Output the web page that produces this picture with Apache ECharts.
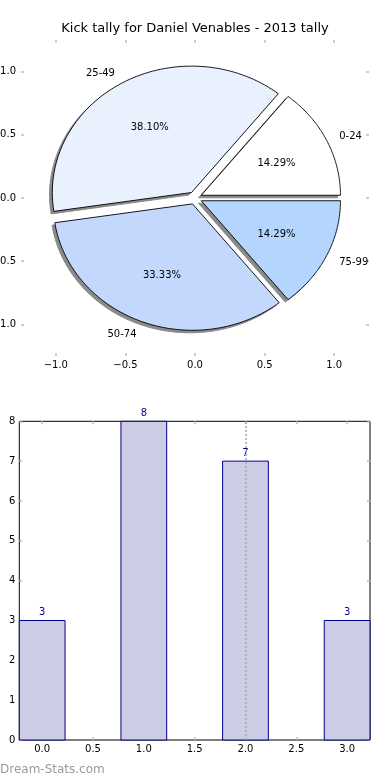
<!DOCTYPE html>
<html>
<head>
<meta charset="utf-8">
<script src="https://cdn.jsdelivr.net/npm/echarts@6/dist/echarts.min.js"></script>
<style>
html,body{margin:0;padding:0;background:#fff;}
#c{width:390px;height:780px;}
</style>
</head>
<body>
<div id="c"></div>
<script>
// ---- data ----
const titleText = 'Kick tally for Daniel Venables - 2013 tally';
const pieLabels = ['0-24', '25-49', '50-74', '75-99'];
const pieValues = [3, 8, 7, 3];
const pieTicks = [-1, -0.5, 0, 0.5, 1];
const barX = [0, 1, 2, 3];
const barValues = [3, 8, 7, 3];
const barXTicks = [0, 0.5, 1, 1.5, 2, 2.5, 3];
const barYTicks = [0, 1, 2, 3, 4, 5, 6, 7, 8];
const markX = 2;
const watermark = 'Dream-Stats.com';

// ---- style ----
const FONT = 'DejaVu Sans';
const pieColors = ['#ffffff', '#eaf1fe', '#c4d8fe', '#b3d5fe'];
const EXPLODE = 0.05;
const SHADOW_OFF = -0.02;
const BAR_W = 0.45;
const TICK_COLOR = '#bdbdbd';

const total = pieValues.reduce((a, b) => a + b, 0);
const starts = [];
let acc = 0;
pieValues.forEach(v => { starts.push(acc); acc += v; });

function fmt(v) {
  return (v < 0 ? '\u2212' : '') + Math.abs(v).toFixed(1);
}

function wedgeGeom(i, api, off) {
  const t1 = starts[i] / total * 2 * Math.PI;
  const t2 = (starts[i] + api.value(1)) / total * 2 * Math.PI;
  const tm = (t1 + t2) / 2;
  const cx = EXPLODE * Math.cos(tm) + off;
  const cy = EXPLODE * Math.sin(tm) + off;
  const pts = [api.coord([cx, cy])];
  const n = 80;
  for (let k = 0; k <= n; k++) {
    const t = t1 + (t2 - t1) * k / n;
    pts.push(api.coord([cx + Math.cos(t), cy + Math.sin(t)]));
  }
  return { pts, tm, cx, cy };
}

function renderShadow(params, api) {
  const g = wedgeGeom(params.dataIndex, api, SHADOW_OFF);
  return {
    type: 'polygon',
    shape: { points: g.pts },
    style: { fill: '#8a8a8a', stroke: '#8a8a8a', lineWidth: 1 }
  };
}

function renderWedge(params, api) {
  const i = params.dataIndex;
  const g = wedgeGeom(i, api, 0);
  const labelPos = api.coord([1.1 * Math.cos(g.tm) + g.cx, 1.1 * Math.sin(g.tm) + g.cy]);
  const pctPos = api.coord([0.6 * Math.cos(g.tm) + g.cx, 0.6 * Math.sin(g.tm) + g.cy]);
  const pct = (api.value(1) / total * 100).toFixed(2) + '%';
  return {
    type: 'group',
    children: [
      {
        type: 'polygon',
        shape: { points: g.pts },
        style: { fill: pieColors[i], stroke: '#000', lineWidth: 0.9 }
      },
      {
        type: 'text',
        x: labelPos[0], y: labelPos[1] + 1,
        style: {
          text: pieLabels[i],
          align: Math.cos(g.tm) > 0 ? 'left' : 'right',
          verticalAlign: 'middle',
          fontFamily: FONT, fontSize: 10, fill: '#000'
        }
      },
      {
        type: 'text',
        x: pctPos[0], y: pctPos[1] + 1,
        style: {
          text: pct,
          align: 'center',
          verticalAlign: 'middle',
          fontFamily: FONT, fontSize: 10, fill: '#000'
        }
      }
    ]
  };
}

function renderBar(params, api) {
  const x = api.value(0), v = api.value(1);
  const p1 = api.coord([x - BAR_W / 2, v]);
  const p2 = api.coord([x + BAR_W / 2, 0]);
  return {
    type: 'group',
    children: [
      {
        type: 'rect',
        shape: { x: p1[0], y: p1[1], width: p2[0] - p1[0], height: p2[1] - p1[1] },
        style: { fill: '#cccce5', stroke: '#00008b', lineWidth: 1 }
      },
      {
        type: 'text',
        x: (p1[0] + p2[0]) / 2, y: p1[1] - 3,
        style: {
          text: String(v),
          align: 'center', verticalAlign: 'bottom',
          fontFamily: FONT, fontSize: 10, fill: '#00008b'
        }
      }
    ]
  };
}

function axis(gridIndex, position, min, max, ticks, showLabel, margin, formatter) {
  return {
    type: 'value',
    gridIndex: gridIndex,
    position: position,
    min: min, max: max,
    axisLine: { show: false, onZero: false },
    splitLine: { show: false },
    axisTick: { show: true, inside: true, length: 3, customValues: ticks,
      lineStyle: { color: TICK_COLOR, width: 1.5 } },
    axisLabel: { show: showLabel, customValues: ticks, formatter: formatter || fmt,
      fontFamily: FONT, fontSize: 10, color: '#000', margin: margin }
  };
}

const chart = echarts.init(document.getElementById('c'), null, { renderer: 'canvas' });
chart.setOption({
  animation: false,
  backgroundColor: '#fff',
  title: {
    text: titleText,
    left: 'center',
    top: 22,
    padding: 0,
    textStyle: { fontFamily: FONT, fontSize: 13, fontWeight: 'normal', color: '#000' }
  },
  grid: [
    { left: 21, top: 40, width: 348, height: 316, show: false,
      containLabel: false, outerBoundsMode: 'none' },
    { left: 19.3, top: 421.3, width: 350.7, height: 318.7, show: true,
      borderColor: '#000', borderWidth: 1, backgroundColor: 'transparent',
      containLabel: false, outerBoundsMode: 'none' }
  ],
  xAxis: [
    axis(0, 'bottom', -1.25, 1.25, pieTicks, true, 4),
    axis(0, 'top', -1.25, 1.25, pieTicks, false, 4),
    axis(1, 'bottom', -0.225, 3.225, barXTicks, true, 4),
    axis(1, 'top', -0.225, 3.225, barXTicks, false, 4)
  ],
  yAxis: [
    axis(0, 'left', -1.25, 1.25, pieTicks, true, 5),
    axis(0, 'right', -1.25, 1.25, pieTicks, false, 5),
    axis(1, 'left', 0, 8, barYTicks, true, 4, v => String(v)),
    axis(1, 'right', 0, 8, barYTicks, false, 4, v => String(v))
  ],
  series: [
    {
      type: 'custom', xAxisIndex: 0, yAxisIndex: 0, z: 1, clip: false,
      data: pieValues.map((v, i) => [i, v]),
      renderItem: renderShadow
    },
    {
      type: 'custom', xAxisIndex: 0, yAxisIndex: 0, z: 2, clip: false,
      data: pieValues.map((v, i) => [i, v]),
      renderItem: renderWedge
    },
    {
      type: 'custom', xAxisIndex: 2, yAxisIndex: 2, z: 2, clip: false,
      data: barX.map((x, i) => [x, barValues[i]]),
      renderItem: renderBar,
      markLine: {
        silent: true, symbol: 'none', animation: false,
        label: { show: false },
        lineStyle: { type: [2, 2], color: '#a8a8a8', width: 1.5 },
        data: [{ xAxis: markX }]
      }
    }
  ],
  graphic: [
    {
      type: 'text', left: 0, top: 764,
      style: { text: watermark, fontFamily: FONT, fontSize: 12, fill: '#9a9a9a' }
    }
  ]
});
</script>
</body>
</html>
